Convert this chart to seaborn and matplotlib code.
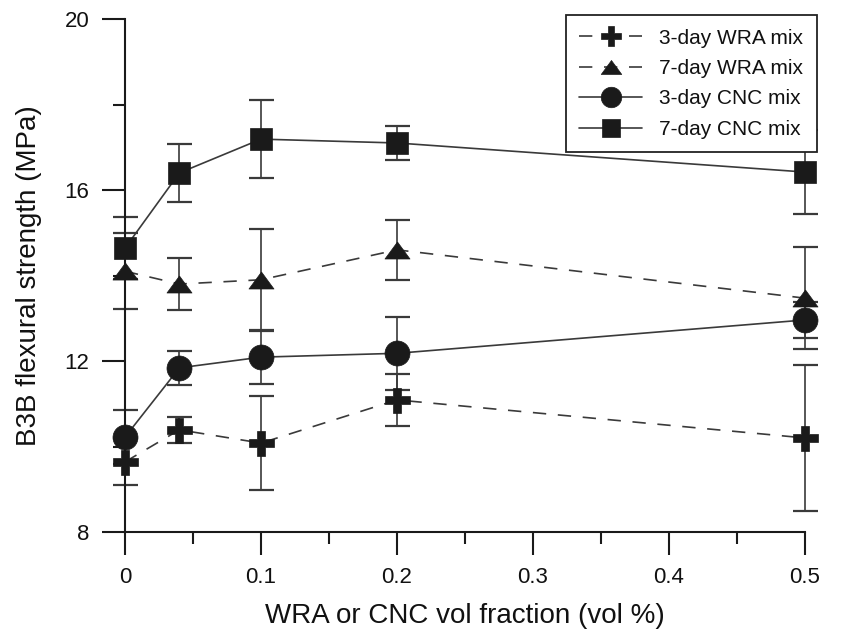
import numpy as np
import matplotlib
matplotlib.use("Agg")
import matplotlib.pyplot as plt
import seaborn as sns

# ---- data ----
vol_fraction = [0.0, 0.04, 0.1, 0.2, 0.5]

wra_3day = [9.64, 10.39, 10.08, 11.09, 10.20]
wra_3day_err = [0.54, 0.30, 1.10, 0.60, 1.70]

wra_7day = [14.10, 13.80, 13.90, 14.60, 13.47]
wra_7day_err = [0.89, 0.61, 1.18, 0.70, 1.20]

cnc_3day = [10.22, 11.84, 12.09, 12.18, 12.96]
cnc_3day_err = [0.63, 0.40, 0.62, 0.85, 0.42]

cnc_7day = [14.64, 16.40, 17.19, 17.10, 16.42]
cnc_7day_err = [0.73, 0.68, 0.92, 0.40, 0.98]

series_labels = ["3-day WRA mix", "7-day WRA mix", "3-day CNC mix", "7-day CNC mix"]

x_ticks = [0, 0.1, 0.2, 0.3, 0.4, 0.5]
x_ticklabels = ["0", "0.1", "0.2", "0.3", "0.4", "0.5"]
y_ticks = [8, 12, 16, 20]
y_ticklabels = ["8", "12", "16", "20"]

# ---- style ----
sns.set_theme(style="ticks")
plt.rcParams["font.family"] = ["Liberation Sans", "DejaVu Sans"]

fig = plt.figure(figsize=(8.46, 6.37), dpi=100)
ax = fig.add_axes([125 / 846, 1 - 532 / 637, 680 / 846, 513 / 637])

tri = np.array([(0, 0.68), (-1, -0.68), (1, -0.68), (0, 0.68)])
dash = (0, (8, 7))

series = [
    (wra_3day, wra_3day_err, "P", 18, dash),
    (wra_7day, wra_7day_err, tri, 18, dash),
    (cnc_3day, cnc_3day_err, "o", 18, "-"),
    (cnc_7day, cnc_7day_err, "s", 16.5, "-"),
]

line_col = "#3a3a3a"
for (vals, errs, mk, ms, ls), lab in zip(series, series_labels):
    eb = ax.errorbar(vol_fraction, vals, yerr=errs, fmt="none", ecolor=line_col,
                     elinewidth=1.2, capsize=9, capthick=1.6, zorder=2)
    for art in eb.lines[1]:
        art.set_clip_on(False)
    for art in eb.lines[2]:
        art.set_clip_on(False)
    sns.lineplot(x=vol_fraction, y=vals, ax=ax, label=lab, errorbar=None,
                 color=line_col, linewidth=1.2, linestyle=ls,
                 marker=mk, markersize=ms, markerfacecolor="k",
                 markeredgecolor="k", markeredgewidth=0.5, zorder=3,
                 clip_on=False)

ax.set_xlim(0, 0.5)
ax.set_ylim(8, 20)
ax.set_xticks(x_ticks)
ax.set_xticklabels(x_ticklabels)
ax.set_yticks(y_ticks)
ax.set_yticklabels(y_ticklabels)
ax.set_xticks(np.arange(0.05, 0.5, 0.1), minor=True)
ax.set_yticks([10, 14, 18], minor=True)

for s in ["top", "right"]:
    ax.spines[s].set_visible(False)
for s in ["left", "bottom"]:
    ax.spines[s].set_color("k")
    ax.spines[s].set_linewidth(1.5)

ax.tick_params(which="major", direction="out", length=16.5, width=1.5,
               color="k", labelsize=16, labelcolor="#111111", pad=9)
ax.tick_params(which="minor", direction="out", length=8.5, width=1.5, color="k")

ax.set_xlabel("WRA or CNC vol fraction (vol %)", fontsize=20, color="#111111")
ax.set_ylabel("B3B flexural strength (MPa)", fontsize=20, color="#111111")
ax.xaxis.set_label_coords(0.5, -0.138)
ax.yaxis.set_label_coords(-0.122, 0.5)

leg = ax.legend(loc="upper right", bbox_to_anchor=(817 / 846, 1 - 15 / 637),
                bbox_transform=fig.transFigure, borderaxespad=0,
                fontsize=15, frameon=True, fancybox=False, framealpha=1,
                edgecolor="#222222", handlelength=3.0, handletextpad=0.85,
                labelspacing=0.55, borderpad=0.65, markerscale=0.82)
leg.get_frame().set_linewidth(1.3)
leg.set_zorder(5)
for t in leg.get_texts():
    t.set_color("#111111")

fig.savefig("out.png", dpi=100)
